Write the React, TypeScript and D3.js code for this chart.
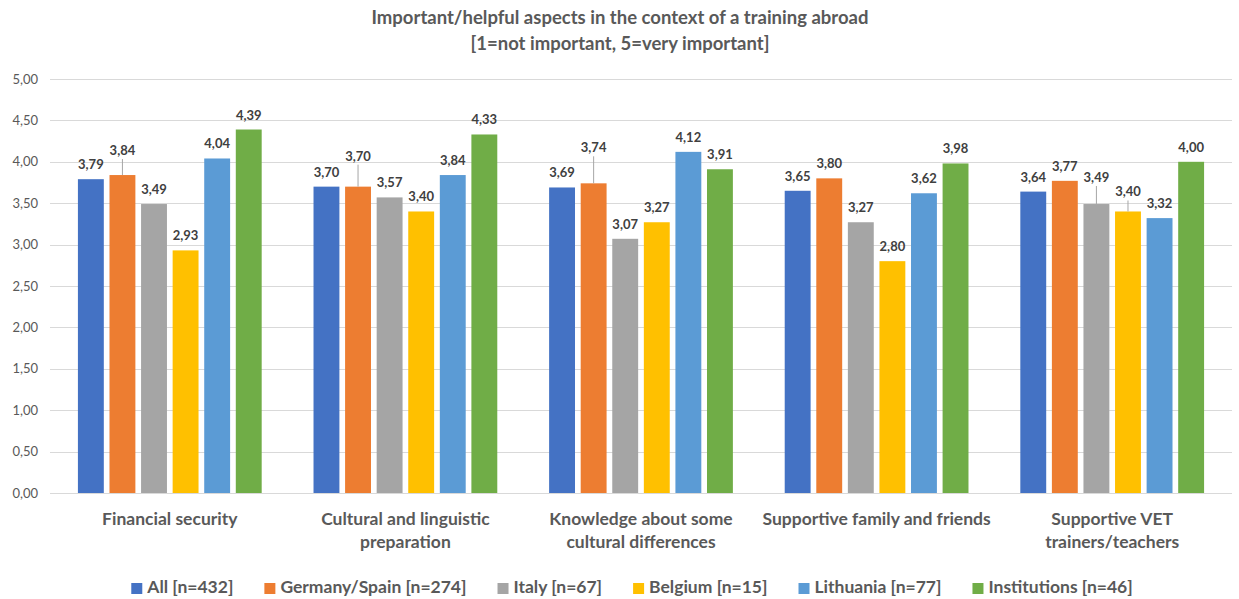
import * as d3 from "d3";
import { useRef, useEffect } from "react";

const categories = [
  ["Financial security"],
  ["Cultural and linguistic", "preparation"],
  ["Knowledge about some", "cultural differences"],
  ["Supportive family and friends"],
  ["Supportive VET", "trainers/teachers"],
];

const seriesNames = [
  "All [n=432]",
  "Germany/Spain [n=274]",
  "Italy [n=67]",
  "Belgium [n=15]",
  "Lithuania [n=77]",
  "Institutions [n=46]",
];

const allValues = [3.79, 3.7, 3.69, 3.65, 3.64];
const germanySpainValues = [3.84, 3.7, 3.74, 3.8, 3.77];
const italyValues = [3.49, 3.57, 3.07, 3.27, 3.49];
const belgiumValues = [2.93, 3.4, 3.27, 2.8, 3.4];
const lithuaniaValues = [4.04, 3.84, 4.12, 3.62, 3.32];
const institutionsValues = [4.39, 4.33, 3.91, 3.98, 4.0];

const yTicks = [0, 0.5, 1, 1.5, 2, 2.5, 3, 3.5, 4, 4.5, 5];

const colors = ["#4472C4", "#ED7D31", "#A5A5A5", "#FFC000", "#5B9BD5", "#70AD47"];

// labels that Excel pushed up with a leader line: [category, series, extra px]
const liftedLabels: [number, number, number][] = [
  [0, 1, 10],
  [1, 1, 16],
  [2, 1, 21],
  [4, 2, 12],
  [4, 3, 5],
];

const W = 1239;
const H = 599;
const FONT = "Lato, 'Open Sans', sans-serif";
const TEXT = "#595959";

export default function App() {
  const ref = useRef<SVGSVGElement | null>(null);

  useEffect(() => {
    const svg = d3.select(ref.current);
    svg.selectAll("*").remove();

    const series = [allValues, germanySpainValues, italyValues, belgiumValues, lithuaniaValues, institutionsValues];
    const catIdx = categories.map((_, i) => i);
    const serIdx = seriesNames.map((_, i) => i);

    const margin = { left: 50, right: 7, top: 79, bottom: 106 };
    const x0 = d3.scaleBand<number>().domain(catIdx)
      .range([margin.left + 2, W - margin.right - 2])
      .paddingInner(0.22).paddingOuter(0.11);
    const x1 = d3.scaleBand<number>().domain(serIdx)
      .range([0, x0.bandwidth()]).paddingInner(0.18);
    const y = d3.scaleLinear().domain([0, 5]).range([H - margin.bottom, margin.top]);

    svg.append("rect").attr("width", W).attr("height", H).attr("fill", "#fff");

    // title
    svg.append("text")
      .attr("x", 620).attr("text-anchor", "middle")
      .attr("font-family", FONT).attr("font-size", 18.5).attr("font-weight", 700)
      .attr("fill", TEXT)
      .selectAll("tspan")
      .data(["Important/helpful aspects in the context of a training abroad", "[1=not important, 5=very important]"])
      .join("tspan")
      .attr("x", 620)
      .attr("y", (_, i) => 24 + i * 26)
      .text(d => d);

    // grid
    const grid = svg.append("g");
    grid.selectAll("line").data(yTicks).join("line")
      .attr("x1", margin.left).attr("x2", W - margin.right)
      .attr("y1", d => Math.round(y(d)) + 0.5).attr("y2", d => Math.round(y(d)) + 0.5)
      .attr("stroke", "#D9D9D9").attr("stroke-width", 1);
    grid.selectAll("text").data(yTicks).join("text")
      .attr("x", 38).attr("y", d => y(d) + 4.5)
      .attr("text-anchor", "end")
      .attr("font-family", FONT).attr("font-size", 13).attr("fill", TEXT)
      .text(d => d3.format(".2f")(d).replace(".", ","));

    // bars
    const groups = svg.append("g").selectAll("g").data(catIdx).join("g")
      .attr("transform", c => `translate(${x0(c)},0)`);

    groups.selectAll("rect").data(c => serIdx.map(s => ({ c, s, v: series[s][c] }))).join("rect")
      .attr("x", d => x1(d.s)!)
      .attr("width", x1.bandwidth())
      .attr("y", d => y(d.v))
      .attr("height", d => y(0) - y(d.v))
      .attr("fill", d => colors[d.s]);

    const lift = (c: number, s: number) => {
      const f = liftedLabels.find(l => l[0] === c && l[1] === s);
      return f ? f[2] : 0;
    };

    groups.selectAll("line.leader")
      .data(c => serIdx.filter(s => lift(c, s) > 0).map(s => ({ c, s, v: series[s][c] })))
      .join("line")
      .attr("class", "leader")
      .attr("x1", d => x1(d.s)! + x1.bandwidth() / 2)
      .attr("x2", d => x1(d.s)! + x1.bandwidth() / 2)
      .attr("y1", d => y(d.v) - lift(d.c, d.s) - 6)
      .attr("y2", d => y(d.v))
      .attr("stroke", "#A6A6A6").attr("stroke-width", 1);

    groups.selectAll("text.val").data(c => serIdx.map(s => ({ c, s, v: series[s][c] }))).join("text")
      .attr("class", "val")
      .attr("x", d => x1(d.s)! + x1.bandwidth() / 2)
      .attr("y", d => y(d.v) - 10 - lift(d.c, d.s))
      .attr("text-anchor", "middle")
      .attr("font-family", FONT).attr("font-size", 13).attr("font-weight", 700)
      .attr("fill", "#404040")
      .text(d => d3.format(".2f")(d.v).replace(".", ","));

    // category labels
    svg.append("g").selectAll("text").data(catIdx).join("text")
      .attr("text-anchor", "middle")
      .attr("font-family", FONT).attr("font-size", 17.5).attr("font-weight", 700).attr("fill", TEXT)
      .each(function (c) {
        d3.select(this).selectAll("tspan").data(categories[c]).join("tspan")
          .attr("x", x0(c)! + x0.bandwidth() / 2)
          .attr("y", (_, i) => 525 + i * 23)
          .text(d => d);
      });

    // legend
    const legend = svg.append("g");
    const items = legend.selectAll("g").data(serIdx).join("g");
    items.append("rect").attr("width", 11).attr("height", 11).attr("y", -10)
      .attr("fill", s => colors[s]);
    items.append("text").attr("x", 16)
      .attr("font-family", FONT).attr("font-size", 17.5).attr("font-weight", 700).attr("fill", TEXT)
      .text(s => seriesNames[s]);
    const widths: number[] = [];
    items.select<SVGTextElement>("text").each(function () {
      widths.push(16 + this.getComputedTextLength());
    });
    const gap = 31;
    const total = d3.sum(widths) + gap * (widths.length - 1);
    let cx = 632 - total / 2;
    items.attr("transform", (_, i) => {
      const t = `translate(${cx},593)`;
      cx += widths[i] + gap;
      return t;
    });
  }, []);

  return <svg ref={ref} width={W} height={H} style={{ display: "block", position: "absolute", left: 0, top: 0 }} />;
}
